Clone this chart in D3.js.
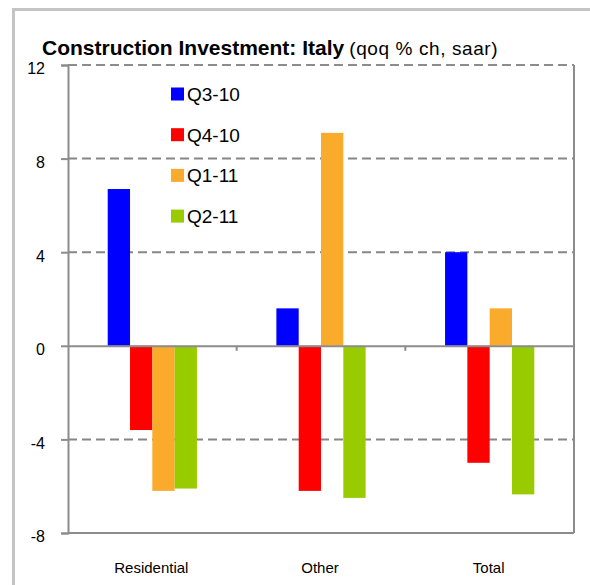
<!DOCTYPE html>
<html>
<head>
<meta charset="utf-8">
<script src="https://cdn.jsdelivr.net/npm/d3@7"></script>
<style>
  html, body { margin: 0; padding: 0; background: #fff; }
  svg { display: block; font-family: "Liberation Sans", Arial, sans-serif; }
</style>
</head>
<body>
<svg id="chart" width="590" height="585"></svg>
<script>
const categories = ["Residential", "Other", "Total"];
const seriesNames = ["Q3-10", "Q4-10", "Q1-11", "Q2-11"];
const seriesColors = ["#0000FF", "#FF0000", "#FBAB2B", "#99CC00"];
const q3_10 = [6.7, 1.6, 4.0];
const q4_10 = [-3.6, -6.2, -5.0];
const q1_11 = [-6.2, 9.1, 1.6];
const q2_11 = [-6.1, -6.5, -6.35];
const yTicks = [-8, -4, 0, 4, 8, 12];

const seriesValues = [q3_10, q4_10, q1_11, q2_11];

const svg = d3.select("#chart");
const m = { left: 68, right: 574, top: 65, bottom: 533 };

// outer frame
svg.append("rect")
  .attr("x", 13.5).attr("y", 9.5).attr("width", 700).attr("height", 700)
  .attr("fill", "none").attr("stroke", "#c4c4c4").attr("stroke-width", 3);

const y = d3.scaleLinear().domain([-8, 12]).range([m.bottom, m.top]);
const x0 = d3.scaleBand().domain(categories).range([m.left, m.right]).padding(0);
const x1 = d3.scaleBand().domain(seriesNames).range([0, x0.bandwidth()])
  .paddingInner(0).paddingOuter(1.78);

// gridlines (dashed)
svg.append("g").selectAll("line")
  .data(yTicks.filter(d => d !== 0 && d !== -8))
  .join("line")
  .attr("x1", m.left).attr("x2", m.right)
  .attr("y1", d => y(d)).attr("y2", d => y(d))
  .attr("stroke", "#868686").attr("stroke-width", 2)
  .attr("stroke-dasharray", "9,5");

// plot border right/bottom
svg.append("line").attr("x1", m.right).attr("x2", m.right)
  .attr("y1", m.top).attr("y2", m.bottom)
  .attr("stroke", "#8c8c8c").attr("stroke-width", 2);
svg.append("line").attr("x1", m.left).attr("x2", m.right)
  .attr("y1", m.bottom).attr("y2", m.bottom)
  .attr("stroke", "#8c8c8c").attr("stroke-width", 2);

// bars
const rows = [];
categories.forEach((c, ci) => {
  seriesNames.forEach((s, si) => {
    rows.push({ cat: c, series: s, value: seriesValues[si][ci], color: seriesColors[si] });
  });
});
svg.append("g").selectAll("rect")
  .data(rows)
  .join("rect")
  .attr("x", d => x0(d.cat) + x1(d.series))
  .attr("width", x1.bandwidth())
  .attr("y", d => y(Math.max(0, d.value)))
  .attr("height", d => Math.abs(y(d.value) - y(0)))
  .attr("fill", d => d.color);

// y axis
const yAxis = d3.axisLeft(y).tickValues(yTicks).tickSize(7).tickPadding(16)
  .tickFormat(d => String(d));
const ya = svg.append("g").attr("transform", `translate(${m.left},0)`).call(yAxis);
ya.select(".domain").attr("stroke", "#8c8c8c").attr("stroke-width", 2);
ya.selectAll(".tick line").attr("stroke", "#8c8c8c").attr("stroke-width", 2);
ya.selectAll(".tick text")
  .attr("font-size", "16px").attr("fill", "#000")
  .attr("font-family", "'Liberation Sans', Arial, sans-serif")
  .attr("dy", "0.55em");

// zero line with category-boundary ticks
const xAxis = d3.axisBottom(x0).tickSize(0).tickFormat("");
const xa = svg.append("g").attr("transform", `translate(0,${y(0)})`).call(xAxis);
xa.select(".domain").attr("stroke", "#8c8c8c").attr("stroke-width", 2);
xa.selectAll(".tick").remove();
xa.selectAll("line.bnd")
  .data(categories.slice(1))
  .join("line").attr("class", "bnd")
  .attr("x1", d => x0(d)).attr("x2", d => x0(d))
  .attr("y1", 0).attr("y2", 5)
  .attr("stroke", "#8c8c8c").attr("stroke-width", 2);

// top dashed line at 12
svg.append("line").attr("x1", m.left).attr("x2", m.right)
  .attr("y1", y(12)).attr("y2", y(12))
  .attr("stroke", "#8c8c8c").attr("stroke-width", 2)
  .attr("stroke-dasharray", "9,5");

// category labels
svg.append("g").selectAll("text")
  .data(categories)
  .join("text")
  .attr("x", d => x0(d) + x0.bandwidth() / 2 - 1)
  .attr("y", 573)
  .attr("text-anchor", "middle")
  .attr("font-size", "15px")
  .attr("fill", "#000")
  .text(d => d);

// title
const title = svg.append("text").attr("x", 42).attr("y", 55);
title.append("tspan").attr("font-weight", "bold").attr("font-size", "21px")
  .text("Construction Investment: Italy");
title.append("tspan").attr("font-size", "19px").attr("dx", 5)
  .attr("letter-spacing", "0.6px")
  .text("(qoq % ch, saar)");

// legend
const leg = svg.append("g");
seriesNames.forEach((s, i) => {
  const cy = 94 + i * 40.7;
  leg.append("rect").attr("x", 171).attr("y", cy - 6.5)
    .attr("width", 13).attr("height", 13).attr("fill", seriesColors[i]);
  leg.append("text").attr("x", 187).attr("y", cy + 7)
    .attr("font-size", "19px").attr("fill", "#000").text(s);
});
</script>
</body>
</html>
